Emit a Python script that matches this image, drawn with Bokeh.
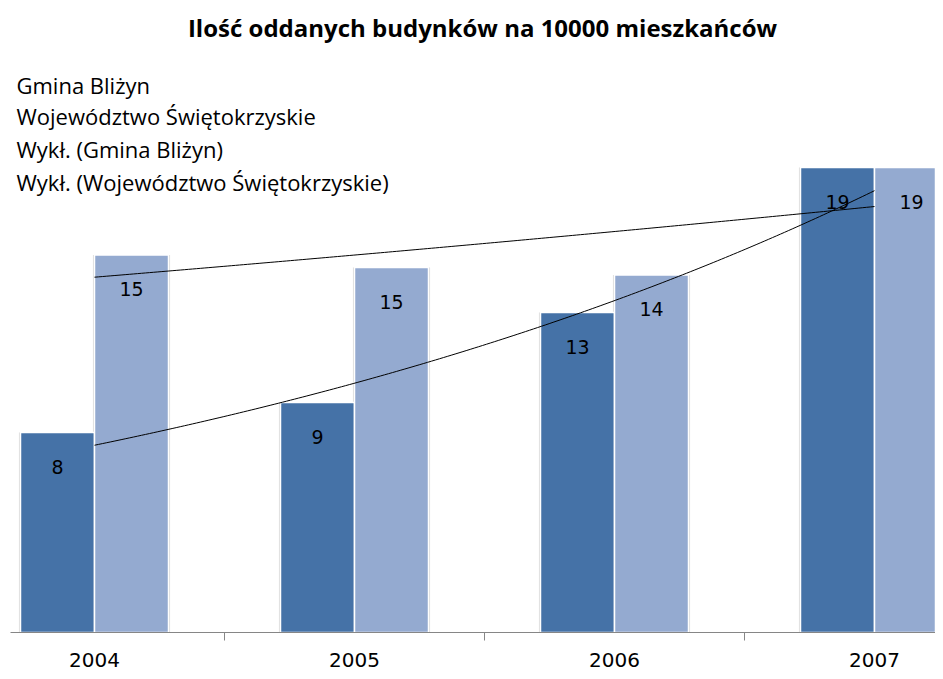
from bokeh.plotting import figure
from bokeh.models import Range1d, FixedTicker, ColumnDataSource
from bokeh.core.properties import value
from bokeh.embed import file_html
from bokeh.resources import INLINE
import numpy as np

# ---- data ----
years = ["2004", "2005", "2006", "2007"]
gmina = [8.0, 9.2, 12.8, 18.6]
woj = [15.1, 14.6, 14.3, 18.6]
legend_labels = ["Gmina Bliżyn", "Województwo Świętokrzyskie",
                 "Wykł. (Gmina Bliżyn)", "Wykł. (Województwo Świętokrzyskie)"]
title_text = "Ilość oddanych budynków na 10000 mieszkańców"

DARK = "#4572A7"
LIGHT = "#94AAD0"

W, H = 935, 671
PX_PER_UNIT = 25.0
GROUP_PX = 260.0
FRAME_LEFT = 10
BASE_Y = 632

p = figure(width=W, height=H, output_backend="svg", toolbar_location=None,
           x_range=Range1d((FRAME_LEFT - 94) / GROUP_PX,
                           (FRAME_LEFT - 94) / GROUP_PX + (W - FRAME_LEFT) / GROUP_PX),
           y_range=Range1d(0, BASE_Y / PX_PER_UNIT),
           min_border_left=FRAME_LEFT, min_border_right=0, min_border_top=0,
           min_border_bottom=H - BASE_Y)
p.outline_line_color = None
p.xgrid.visible = False
p.ygrid.visible = False
p.yaxis.visible = False

idx = np.arange(len(years))
bw = 74 / GROUP_PX
half = bw / 2

src = ColumnDataSource(dict(
    x_d=idx - half, x_l=idx + half, g=gmina, w=woj,
    g_lab=[str(int(round(v))) for v in gmina],
    w_lab=[str(int(round(v))) for v in woj],
    g_ly=[v - 34 / PX_PER_UNIT for v in gmina],
    w_ly=[v - 34 / PX_PER_UNIT for v in woj],
))

# subtle shadow
p.vbar(x="x_d", top="g", width=bw + 0.012, bottom=0, source=src,
       fill_color="#d9d9d9", line_color=None)
p.vbar(x="x_l", top="w", width=bw + 0.012, bottom=0, source=src,
       fill_color="#d9d9d9", line_color=None)
p.vbar(x="x_d", top="g", width=bw, bottom=0, source=src,
       fill_color=DARK, line_color="white", line_width=1.5)
p.vbar(x="x_l", top="w", width=bw, bottom=0, source=src,
       fill_color=LIGHT, line_color="white", line_width=1.5)

# exponential trend lines (fitted to the data)
t = np.linspace(0, 3, 200)
for vals in (gmina, woj):
    b, a = np.polyfit(idx, np.log(vals), 1)
    p.line(t, np.exp(a + b * t), line_color="black", line_width=1)

# value labels
p.text(x="x_d", y="g_ly", text="g_lab", source=src, text_align="center",
       text_baseline="middle", text_font=value("DejaVu Sans"),
       text_font_size="19px", text_color="black")
p.text(x="x_l", y="w_ly", text="w_lab", source=src, text_align="center",
       text_baseline="middle", text_font=value("DejaVu Sans"),
       text_font_size="19px", text_color="black")

def px_to_x(px):
    return (px - 94) / GROUP_PX

def py_to_y(py):
    return (BASE_Y - py) / PX_PER_UNIT

# title
p.text(x=[px_to_x(482)], y=[py_to_y(27)], text=[title_text],
       text_align="center", text_baseline="middle",
       text_font=value("Open Sans"), text_font_style="bold",
       text_font_size="24px", text_color="black")

# legend (text only)
leg_y = [84, 115, 148, 181]
p.text(x=[px_to_x(16)] * 4, y=[py_to_y(v) for v in leg_y], text=legend_labels,
       text_align="left", text_baseline="middle",
       text_font=value("Open Sans"), text_font_size="22px", text_color="black")

# x axis
ax = p.xaxis[0]
ax.ticker = FixedTicker(ticks=list(idx), minor_ticks=[0.5, 1.5, 2.5])
ax.major_label_overrides = {int(i): years[i] for i in idx}
ax.major_tick_out = 0
ax.major_tick_in = 0
ax.minor_tick_out = 8
ax.minor_tick_in = 0
ax.axis_line_color = "#868686"
ax.minor_tick_line_color = "#868686"
ax.major_label_text_font = "DejaVu Sans"
ax.major_label_text_font_size = "20px"
ax.major_label_text_color = "black"
ax.major_label_standoff = 12

open("out.html", "w").write(file_html(p, INLINE))
